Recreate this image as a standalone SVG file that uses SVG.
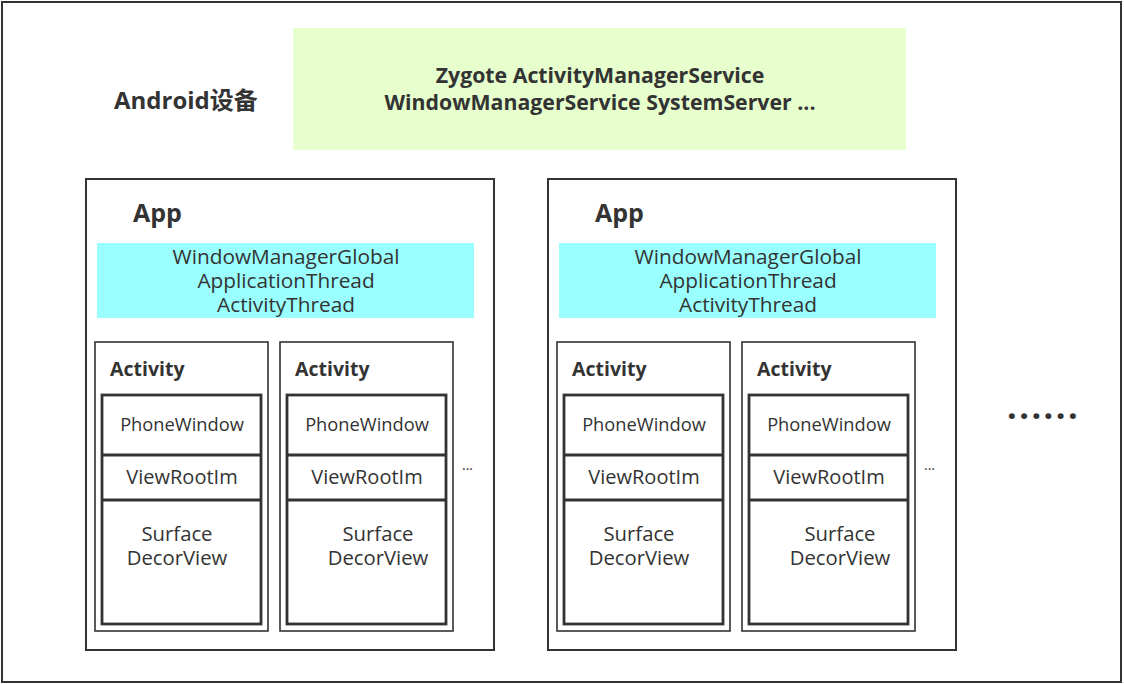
<svg xmlns="http://www.w3.org/2000/svg" width="1124" height="684" viewBox="0 0 1124 684">
<style>
.frame{fill:#fff;stroke:#333;stroke-width:2}
.app{fill:#fff;stroke:#333;stroke-width:2}
.act{fill:#fff;stroke:#333;stroke-width:1.6}
.inner{fill:#fff;stroke:#333;stroke-width:2.8}
.t{font-family:"Open Sans","Noto Sans CJK SC",sans-serif;fill:#333}
.b{font-weight:bold}
.c{text-anchor:middle}
.cy{font-size:20.8px}
.pw{font-size:18.3px}
.vr{font-size:20px}
.sd{font-size:20.3px}
.ac{font-size:19.5px}
</style>
<g id="device">
<rect class="frame" x="2" y="2" width="1119" height="680"/>
<text class="t b" x="114" y="109" font-size="24">Android设备</text>
</g>
<g id="system">
<rect x="293" y="28" width="613" height="122" fill="#e6ffcc"/>
<text class="t b c" x="600" y="83" font-size="21.3">Zygote ActivityManagerService</text>
<text class="t b c" x="600" y="110" font-size="21.3">WindowManagerService SystemServer ...</text>
</g>
<g id="app1">
<rect class="app" x="86" y="179" width="408" height="471"/>
<text class="t b" x="133" y="222" font-size="25">App</text>
<rect x="97" y="243" width="377" height="75" fill="#99ffff"/>
<text class="t c cy" x="286" y="264">WindowManagerGlobal</text>
<text class="t c cy" x="286" y="288">ApplicationThread</text>
<text class="t c cy" x="286" y="312">ActivityThread</text>
<text class="t" x="462" y="470" font-size="14">...</text>
</g>
<g id="act1">
<rect class="act" x="95" y="342" width="173" height="289"/>
<text class="t b ac" x="110" y="376">Activity</text>
<rect class="inner" x="102" y="395" width="159" height="229"/>
<line x1="102" y1="455" x2="261" y2="455" stroke="#333" stroke-width="2.8"/>
<line x1="102" y1="500" x2="261" y2="500" stroke="#333" stroke-width="2.8"/>
<text class="t c pw" x="182" y="431">PhoneWindow</text>
<text class="t c vr" x="182" y="484">ViewRootIm</text>
<text class="t c sd" x="177" y="541">Surface</text>
<text class="t c sd" x="177" y="565">DecorView</text>
</g>
<g id="act2">
<rect class="act" x="280" y="342" width="173" height="289"/>
<text class="t b ac" x="295" y="376">Activity</text>
<rect class="inner" x="287" y="395" width="159" height="229"/>
<line x1="287" y1="455" x2="446" y2="455" stroke="#333" stroke-width="2.8"/>
<line x1="287" y1="500" x2="446" y2="500" stroke="#333" stroke-width="2.8"/>
<text class="t c pw" x="367" y="431">PhoneWindow</text>
<text class="t c vr" x="367" y="484">ViewRootIm</text>
<text class="t c sd" x="378" y="541">Surface</text>
<text class="t c sd" x="378" y="565">DecorView</text>
</g>
<g id="app2">
<rect class="app" x="548" y="179" width="408" height="471"/>
<text class="t b" x="595" y="222" font-size="25">App</text>
<rect x="559" y="243" width="377" height="75" fill="#99ffff"/>
<text class="t c cy" x="748" y="264">WindowManagerGlobal</text>
<text class="t c cy" x="748" y="288">ApplicationThread</text>
<text class="t c cy" x="748" y="312">ActivityThread</text>
<text class="t" x="924" y="470" font-size="14">...</text>
</g>
<g id="act3">
<rect class="act" x="557" y="342" width="173" height="289"/>
<text class="t b ac" x="572" y="376">Activity</text>
<rect class="inner" x="564" y="395" width="159" height="229"/>
<line x1="564" y1="455" x2="723" y2="455" stroke="#333" stroke-width="2.8"/>
<line x1="564" y1="500" x2="723" y2="500" stroke="#333" stroke-width="2.8"/>
<text class="t c pw" x="644" y="431">PhoneWindow</text>
<text class="t c vr" x="644" y="484">ViewRootIm</text>
<text class="t c sd" x="639" y="541">Surface</text>
<text class="t c sd" x="639" y="565">DecorView</text>
</g>
<g id="act4">
<rect class="act" x="742" y="342" width="173" height="289"/>
<text class="t b ac" x="757" y="376">Activity</text>
<rect class="inner" x="749" y="395" width="159" height="229"/>
<line x1="749" y1="455" x2="908" y2="455" stroke="#333" stroke-width="2.8"/>
<line x1="749" y1="500" x2="908" y2="500" stroke="#333" stroke-width="2.8"/>
<text class="t c pw" x="829" y="431">PhoneWindow</text>
<text class="t c vr" x="829" y="484">ViewRootIm</text>
<text class="t c sd" x="840" y="541">Surface</text>
<text class="t c sd" x="840" y="565">DecorView</text>
</g>
<g id="more">
<text class="t b" x="1007" y="419" font-size="34" letter-spacing="2.5">......</text>
</g>
<g id="connectors"/>
</svg>
